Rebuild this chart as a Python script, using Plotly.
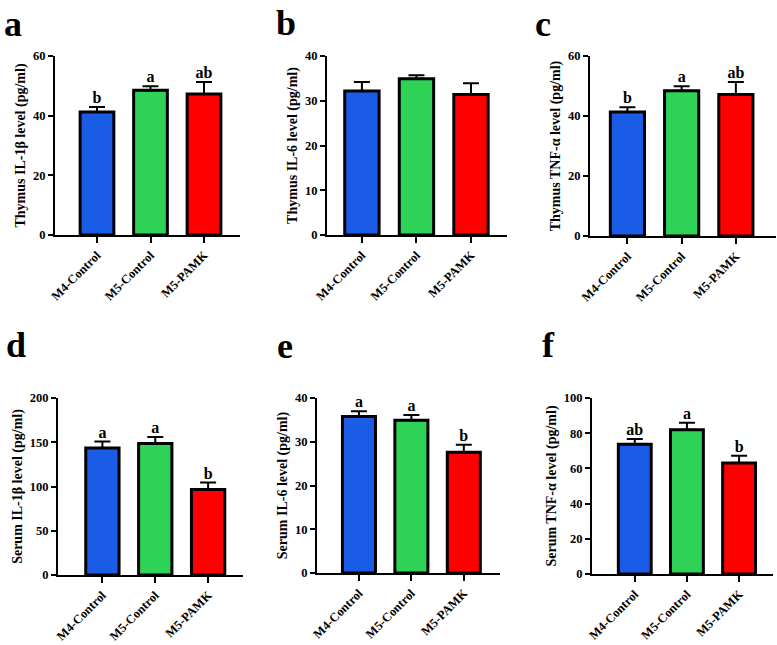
import plotly.graph_objects as go

groups = ["M4-Control", "M5-Control", "M5-PAMK"]
bar_colors = ["#1a5ce6", "#2dd257", "#ff0000"]

panel_labels = ["a", "b", "c", "d", "e", "f"]

y_titles = [
    "Thymus IL-1β level (pg/ml)",
    "Thymus IL-6 level (pg/ml)",
    "Thymus TNF-α level (pg/ml)",
    "Serum IL-1β level (pg/ml)",
    "Serum IL-6 level (pg/ml)",
    "Serum TNF-α level (pg/ml)",
]

thymus_il1b_mean = [41.2, 48.5, 47.3]
thymus_il1b_sem = [1.7, 1.4, 4.0]
thymus_il1b_letters = ["b", "a", "ab"]

thymus_il6_mean = [32.2, 34.9, 31.4]
thymus_il6_sem = [2.0, 0.8, 2.5]
thymus_il6_letters = ["", "", ""]

thymus_tnfa_mean = [41.3, 48.4, 47.2]
thymus_tnfa_sem = [1.6, 1.5, 4.1]
thymus_tnfa_letters = ["b", "a", "ab"]

serum_il1b_mean = [143.6, 148.5, 96.6]
serum_il1b_sem = [7.2, 7.5, 7.9]
serum_il1b_letters = ["a", "a", "b"]

serum_il6_mean = [35.8, 34.9, 27.6]
serum_il6_sem = [1.2, 1.2, 1.7]
serum_il6_letters = ["a", "a", "b"]

serum_tnfa_mean = [73.7, 82.0, 63.1]
serum_tnfa_sem = [3.0, 4.0, 4.1]
serum_tnfa_letters = ["ab", "a", "b"]

y_max = [60, 40, 60, 200, 40, 100]
y_dtick = [20, 10, 20, 50, 10, 20]

means = [thymus_il1b_mean, thymus_il6_mean, thymus_tnfa_mean,
         serum_il1b_mean, serum_il6_mean, serum_tnfa_mean]
sems = [thymus_il1b_sem, thymus_il6_sem, thymus_tnfa_sem,
        serum_il1b_sem, serum_il6_sem, serum_tnfa_sem]
letters = [thymus_il1b_letters, thymus_il6_letters, thymus_tnfa_letters,
           serum_il1b_letters, serum_il6_letters, serum_tnfa_letters]

W, H = 777, 645
# pixel layout of each panel: (x0, x1, ytop, ybottom, left_pad, right_pad)
px = [
    (55, 240, 56, 235, 0.785, 0.673),
    (327, 507, 56, 235, 0.64, 0.66),
    (590, 776, 56, 236, 0.69, 0.74),
    (58, 243, 398, 575, 0.84, 0.66),
    (317, 500, 398, 573, 0.80, 0.69),
    (592, 773, 398, 574, 0.82, 0.65),
]
label_pos = [(2, 24), (274, 23), (533, 24), (4, 345), (275, 346), (540, 345)]

FONT = "Liberation Serif, Times New Roman, serif"

fig = go.Figure()
layout = dict(
    template="none",
    width=W, height=H,
    margin=dict(l=0, r=0, t=0, b=0, autoexpand=False),
    paper_bgcolor="white", plot_bgcolor="white",
    showlegend=False,
    font=dict(family=FONT, color="black"),
    annotations=[],
)

for i in range(6):
    n = i + 1
    xa = "x" if n == 1 else f"x{n}"
    ya = "y" if n == 1 else f"y{n}"
    x0, x1, yt, yb, lp, rp = px[i]
    fig.add_trace(go.Bar(
        x=groups, y=means[i], xaxis=xa, yaxis=ya,
        width=0.63,
        marker=dict(color=bar_colors, line=dict(color="black", width=3)),
        error_y=dict(type="data", symmetric=False, array=sems[i],
                     arrayminus=[0, 0, 0], color="black", thickness=2, width=8),
        hoverinfo="skip",
    ))
    tops = [m + s for m, s in zip(means[i], sems[i])]
    fig.add_trace(go.Scatter(
        x=groups, y=tops, xaxis=xa, yaxis=ya, mode="text",
        text=letters[i], textposition="top center",
        textfont=dict(family=FONT, size=16, color="black", weight="bold"),
        hoverinfo="skip", cliponaxis=False,
    ))
    xkey = "xaxis" if n == 1 else f"xaxis{n}"
    ykey = "yaxis" if n == 1 else f"yaxis{n}"
    layout[xkey] = dict(
        domain=[x0 / W, x1 / W], anchor=ya, automargin=False,
        type="category", range=[-lp, 2 + rp],
        showline=True, linecolor="black", linewidth=2,
        ticks="outside", ticklen=6, tickwidth=2, tickcolor="black",
        tickangle=-45, showgrid=False, zeroline=False,
        tickfont=dict(family=FONT, size=12.5, color="black", weight="bold"),
        fixedrange=True,
    )
    layout[ykey] = dict(
        domain=[1 - yb / H, 1 - yt / H], anchor=xa, automargin=False,
        range=[0, y_max[i]], dtick=y_dtick[i], tick0=0,
        showline=True, linecolor="black", linewidth=2,
        ticks="outside", ticklen=5, tickwidth=2, tickcolor="black",
        showgrid=False, zeroline=False,
        tickfont=dict(family=FONT, size=12.5, color="black", weight="bold"),
        title=dict(text=y_titles[i], standoff=4,
                   font=dict(family=FONT, size=14, color="black", weight="bold")),
        fixedrange=True,
    )
    lx, ly = label_pos[i]
    layout["annotations"].append(dict(
        text=panel_labels[i], xref="paper", yref="paper",
        x=lx / W, y=1 - ly / H, xanchor="left", yanchor="middle",
        showarrow=False,
        font=dict(family=FONT, size=36, color="black", weight="bold"),
    ))

fig.update_layout(**layout)
fig.write_html("out.html",
               config={"displayModeBar": False},
               post_script="document.body.style.margin='0';")
